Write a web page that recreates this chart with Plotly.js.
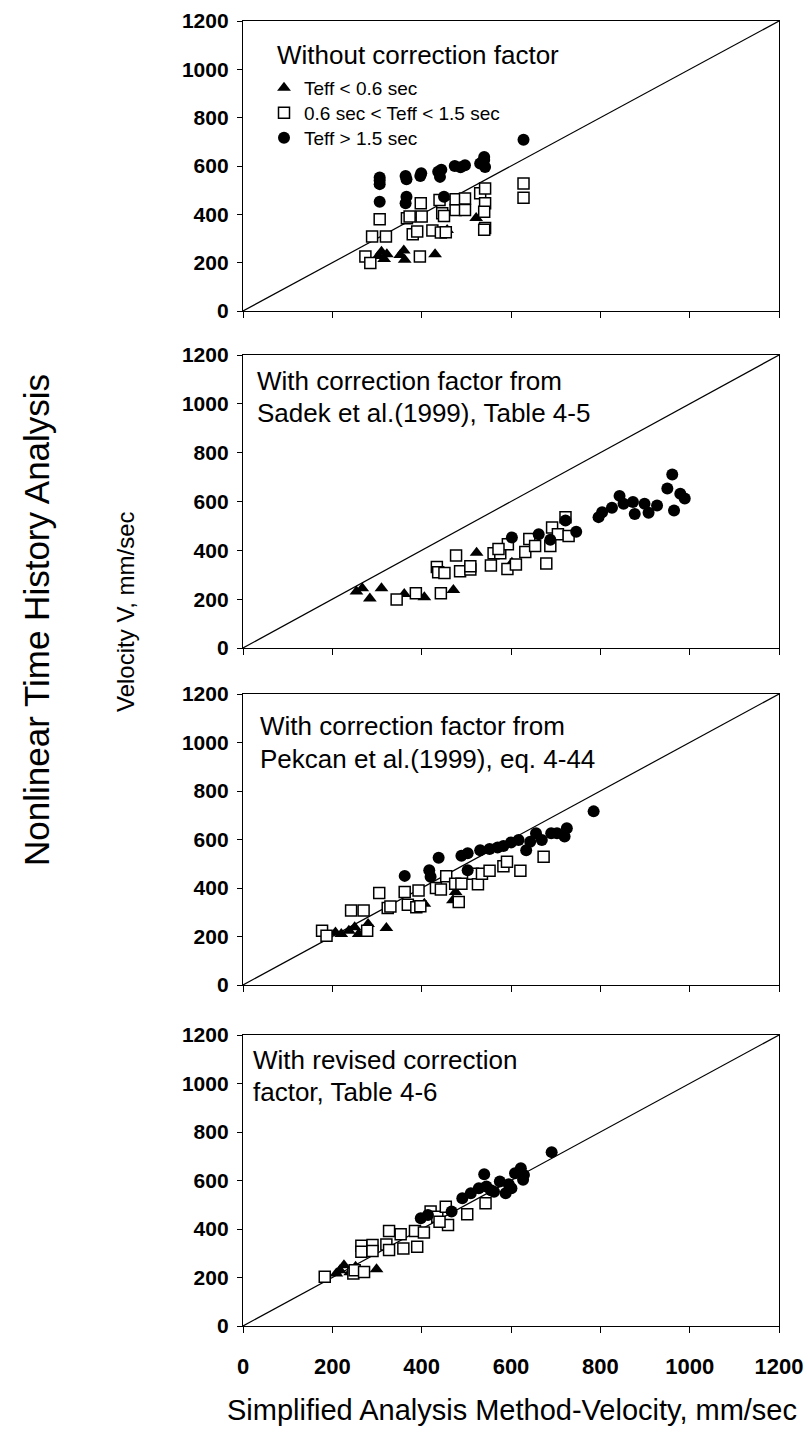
<!DOCTYPE html>
<html>
<head>
<meta charset="utf-8">
<script src="https://cdn.plot.ly/plotly-3.0.1.min.js"></script>
<style>html,body{margin:0;padding:0;background:#fff;}#chart{width:809px;height:1434px;}</style>
</head>
<body>
<div id="chart"></div>
<script>
// ---------- DATA ----------
const groupNames = ["Teff < 0.6 sec", "0.6 sec < Teff < 1.5 sec", "Teff > 1.5 sec"];
const panelTexts = [
  ["Without correction factor"],
  ["With correction factor from", "Sadek et al.(1999), Table 4-5"],
  ["With correction factor from", "Pekcan et al.(1999), eq. 4-44"],
  ["With revised correction", "factor, Table 4-6"]
];
const tickVals = [0, 200, 400, 600, 800, 1000, 1200];
const tickText = ["0", "200", "400", "600", "800", "1000", "1200"];
const diagX = [0, 1200];
const diagY = [0, 1200];

// Panel 1: without correction factor
const p1TriX = [303, 310, 316, 322, 352, 360, 362, 430, 457, 522];
const p1TriY = [228, 245, 215, 235, 232, 250, 212, 235, 335, 385];
const p1SqX = [274, 285, 289, 306, 320, 367, 373, 380, 390, 396, 398, 400, 424, 440, 446, 450, 443, 454, 476, 476, 497, 497, 531, 542, 542, 540, 542, 540, 628, 628];
const p1SqY = [226, 199, 308, 380, 308, 384, 391, 318, 329, 226, 446, 391, 333, 459, 404, 393, 325, 326, 418, 462, 418, 466, 487, 507, 446, 411, 343, 336, 528, 469];
const p1CirX = [306, 306, 306, 306, 364, 366, 366, 364, 397, 399, 437, 441, 444, 450, 474, 487, 497, 531, 536, 540, 542, 540, 628];
const p1CirY = [525, 540, 552, 452, 559, 545, 473, 446, 559, 570, 576, 555, 585, 473, 600, 595, 603, 610, 617, 637, 596, 625, 709];

// Panel 2: Sadek et al. (1999)
const p2TriX = [254, 267, 284, 310, 361, 406, 471, 523, 602];
const p2TriY = [231, 245, 203, 245, 221, 208, 238, 390, 349];
const p2SqX = [344, 387, 443, 434, 437, 451, 477, 486, 509, 509, 555, 561, 576, 593, 592, 611, 632, 641, 654, 679, 688, 692, 705, 722, 729, 572];
const p2SqY = [199, 224, 224, 332, 310, 307, 379, 314, 321, 335, 338, 388, 388, 425, 324, 342, 393, 446, 418, 346, 418, 494, 466, 536, 459, 405];
const p2CirX = [602, 662, 688, 722, 746, 796, 804, 826, 843, 852, 873, 877, 899, 908, 927, 950, 961, 965, 979, 989];
const p2CirY = [453, 466, 443, 522, 476, 536, 556, 574, 623, 591, 598, 549, 591, 554, 584, 653, 711, 563, 632, 612];

// Panel 3: Pekcan et al. (1999)
const p3TriX = [207, 220, 237, 250, 259, 280, 321, 406, 476, 470];
const p3TriY = [217, 210, 224, 238, 210, 252, 235, 335, 383, 349];
const p3SqX = [177, 187, 242, 270, 278, 305, 324, 330, 362, 369, 388, 397, 393, 432, 443, 455, 475, 483, 489, 515, 526, 535, 552, 583, 591, 621, 673];
const p3SqY = [224, 203, 307, 307, 224, 379, 318, 324, 383, 331, 321, 325, 390, 400, 394, 448, 418, 342, 418, 459, 415, 459, 471, 490, 508, 471, 529];
const p3CirX = [362, 417, 420, 438, 489, 503, 503, 531, 552, 570, 583, 600, 617, 634, 643, 656, 669, 690, 703, 725, 720, 785];
const p3CirY = [450, 473, 446, 525, 533, 543, 473, 556, 561, 567, 573, 588, 598, 556, 591, 626, 598, 626, 626, 646, 612, 716];

// Panel 4: revised correction factor
const p4TriX = [209, 217, 226, 252, 299, 240];
const p4TriY = [217, 230, 251, 244, 234, 222];
const p4SqX = [183, 247, 250, 271, 265, 265, 290, 290, 321, 327, 327, 353, 359, 385, 390, 405, 420, 435, 454, 459, 502, 543, 440];
const p4SqY = [203, 217, 230, 223, 331, 306, 334, 309, 336, 313, 392, 378, 320, 392, 327, 386, 472, 451, 492, 416, 461, 506, 430];
const p4CirX = [398, 414, 467, 491, 510, 528, 540, 545, 562, 575, 588, 601, 609, 622, 627, 629, 691, 555, 595];
const p4CirY = [444, 458, 472, 527, 547, 568, 626, 575, 554, 596, 547, 568, 630, 651, 603, 623, 717, 560, 585];

const xTitle = "Simplified Analysis Method-Velocity, mm/sec";
const yTitleInner = "Velocity V, mm/sec";
const yTitleOuter = "Nonlinear Time History Analysis";

// ---------- LAYOUT ----------
const W = 809, H = 1434;
const FONT = "Liberation Sans, Arial, sans-serif";
const plotLeft = 243, plotRight = 779;
const panelTop = [21, 355, 694, 1035];
const panelBottom = [311, 648, 985, 1326];
const legendRowY = [88, 113, 138];
const fx = px => px / W;
const fy = py => 1 - py / H;

const panels = [
  [p1TriX, p1TriY, p1SqX, p1SqY, p1CirX, p1CirY],
  [p2TriX, p2TriY, p2SqX, p2SqY, p2CirX, p2CirY],
  [p3TriX, p3TriY, p3SqX, p3SqY, p3CirX, p3CirY],
  [p4TriX, p4TriY, p4SqX, p4SqY, p4CirX, p4CirY]
];

const markerStyles = [
  {symbol: "triangle-up", size: 12, color: "black", line: {color: "black", width: 0}},
  {symbol: "square", size: 11, color: "white", line: {color: "black", width: 1.5}},
  {symbol: "circle", size: 12, color: "black", line: {color: "black", width: 0}}
];
const legendIds = ["legend", "legend2", "legend3"];

const traces = [];
panels.forEach((p, i) => {
  const xa = i === 0 ? "x" : "x" + (i + 1);
  const ya = i === 0 ? "y" : "y" + (i + 1);
  traces.push({x: diagX, y: diagY, xaxis: xa, yaxis: ya, mode: "lines",
    line: {color: "black", width: 1.2}, showlegend: false, hoverinfo: "skip"});
  for (let g = 0; g < 3; g++) {
    traces.push({
      x: p[2 * g], y: p[2 * g + 1], xaxis: xa, yaxis: ya,
      type: "scatter", mode: "markers", name: groupNames[g],
      marker: markerStyles[g], showlegend: i === 0, legend: legendIds[g],
      cliponaxis: false
    });
  }
});

const layout = {
  width: W, height: H,
  margin: {l: 0, r: 0, t: 0, b: 0},
  paper_bgcolor: "white", plot_bgcolor: "white",
  font: {family: FONT, color: "black"},
  showlegend: true,
  annotations: []
};
legendIds.forEach((id, g) => {
  layout[id] = {
    x: fx(264), y: fy(legendRowY[g]), xanchor: "left", yanchor: "middle",
    bgcolor: "rgba(0,0,0,0)", borderwidth: 0,
    font: {family: FONT, size: 19, color: "black"},
    itemclick: false
  };
});

for (let i = 0; i < 4; i++) {
  const sfx = i === 0 ? "" : String(i + 1);
  layout["xaxis" + sfx] = {
    domain: [fx(plotLeft), fx(plotRight)],
    anchor: "y" + sfx, range: [0, 1200], tickvals: tickVals, ticktext: tickText,
    showticklabels: i === 3, ticks: "outside", ticklen: 6, tickwidth: 1, tickcolor: "black",
    showline: true, mirror: true, linecolor: "black", linewidth: 1.2,
    showgrid: false, zeroline: false,
    ticklabelstandoff: 14,
    tickfont: {family: FONT, size: 22, weight: "bold", color: "black"}
  };
  layout["yaxis" + sfx] = {
    domain: [fy(panelBottom[i]), fy(panelTop[i])],
    anchor: "x" + sfx, range: [0, 1200], tickvals: tickVals, ticktext: tickText,
    ticks: "outside", ticklen: 5, tickwidth: 1, tickcolor: "black",
    showline: true, mirror: true, linecolor: "black", linewidth: 1.2,
    showgrid: false, zeroline: false,
    ticklabelstandoff: 4,
    tickfont: {family: FONT, size: 21, weight: "bold", color: "black"}
  };
}

// panel captions
const captionPos = [
  {x: 275, y: [55]},
  {x: 255, y: [381, 413]},
  {x: 258, y: [726, 759]},
  {x: 251, y: [1060, 1092]}
];
panelTexts.forEach((lines, i) => {
  lines.forEach((t, k) => {
    layout.annotations.push({
      text: t, xref: "paper", yref: "paper",
      x: fx(captionPos[i].x), y: fy(captionPos[i].y[k]),
      xanchor: "left", yanchor: "middle", showarrow: false,
      font: {family: FONT, size: 26, color: "black"}
    });
  });
});

// axis titles
layout.annotations.push({
  text: xTitle, xref: "paper", yref: "paper", x: fx(512), y: fy(1410),
  xanchor: "center", yanchor: "middle", showarrow: false,
  font: {family: FONT, size: 29, color: "black"}
});
layout.annotations.push({
  text: yTitleInner, xref: "paper", yref: "paper", x: fx(125), y: fy(612),
  xanchor: "center", yanchor: "middle", showarrow: false, textangle: -90,
  font: {family: FONT, size: 24, color: "black"}
});
layout.annotations.push({
  text: yTitleOuter, xref: "paper", yref: "paper", x: fx(36), y: fy(620),
  xanchor: "center", yanchor: "middle", showarrow: false, textangle: -90,
  font: {family: FONT, size: 35, color: "black"}
});

Plotly.newPlot("chart", traces, layout, {staticPlot: true, displayModeBar: false});
</script>
</body>
</html>
